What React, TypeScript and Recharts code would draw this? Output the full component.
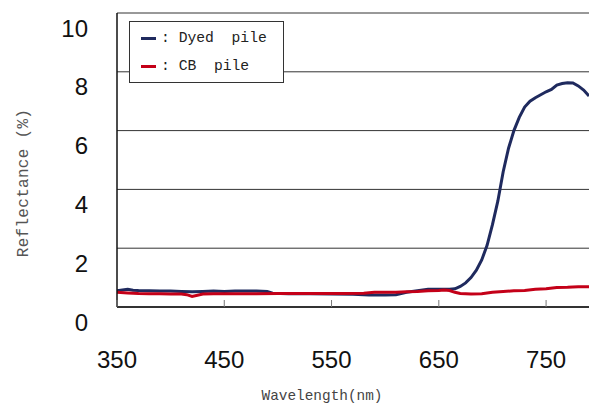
import { LineChart, Line, XAxis, YAxis, CartesianGrid } from 'recharts'

// wavelength (nm) / reflectance (%)
const dyedWavelength = [
  350, 355, 360, 365, 370, 380, 390, 400, 410, 420, 430, 440, 450, 460, 470, 480, 490, 495,
  510, 530, 550, 570, 585, 600, 610, 620, 630, 640, 650, 660, 665, 670, 675, 680, 685, 690,
  695, 700, 705, 710, 715, 720, 725, 730, 735, 740, 745, 750, 755, 760, 765, 770, 775, 780,
  785, 790,
]
const dyedReflectance = [
  0.55, 0.58, 0.6, 0.57, 0.56, 0.55, 0.54, 0.54, 0.53, 0.52, 0.53, 0.54, 0.53, 0.54, 0.54, 0.54,
  0.53, 0.47, 0.45, 0.45, 0.44, 0.43, 0.41, 0.41, 0.42, 0.5, 0.55, 0.6, 0.6, 0.6, 0.62, 0.7,
  0.82, 1.0, 1.25, 1.6, 2.1, 2.8, 3.6, 4.6, 5.4, 6.0, 6.45, 6.8, 7.0, 7.12, 7.22, 7.32, 7.4,
  7.55, 7.6, 7.63, 7.62, 7.52, 7.38, 7.18,
]

const cbWavelength = [
  350, 360, 370, 380, 390, 400, 410, 415, 420, 425, 430, 440, 460, 480, 500, 520, 540, 560,
  580, 590, 610, 620, 630, 640, 650, 655, 660, 665, 670, 680, 690, 700, 710, 720, 730, 740,
  750, 760, 770, 780, 790,
]
const cbReflectance = [
  0.5, 0.48, 0.46, 0.45, 0.45, 0.44, 0.44, 0.42, 0.36, 0.4, 0.44, 0.45, 0.45, 0.45, 0.46, 0.46,
  0.46, 0.46, 0.47, 0.5, 0.5, 0.52, 0.53, 0.55, 0.56, 0.58, 0.56, 0.5, 0.46, 0.44, 0.45, 0.5,
  0.53, 0.55, 0.56, 0.6, 0.62, 0.66, 0.67, 0.69, 0.69,
]

const xTicks = [350, 450, 550, 650, 750]
const yTicks = [0, 2, 4, 6, 8, 10]

const series = [
  { name: 'Dyed  pile', color: '#1f2a5e', wl: dyedWavelength, values: dyedReflectance },
  { name: 'CB  pile', color: '#c40018', wl: cbWavelength, values: cbReflectance },
]

const toPoints = (wl: number[], values: number[]) => wl.map((x, i) => ({ x, v: values[i] }))

const numFont = '"Liberation Sans", Arial, sans-serif'
const monoFont = '"Liberation Mono", "DejaVu Sans Mono", monospace'

interface TickProps {
  x?: number
  y?: number
  payload?: { value: number }
}

const XTick = ({ x = 0, y = 0, payload }: TickProps) => (
  <g>
    <line x1={x} x2={x} y1={y - 7} y2={y} stroke="#777" strokeWidth={1} />
    <text x={x} y={y + 61} textAnchor="middle" fontSize={24} fill="#111" fontFamily={numFont}>
      {payload?.value}
    </text>
  </g>
)

const YTick = ({ x = 0, y = 0, payload }: TickProps) => (
  <text x={x - 29} y={y + 23.5} textAnchor="end" fontSize={24} fill="#111" fontFamily={numFont}>
    {payload?.value}
  </text>
)

export default function App() {
  return (
    <div style={{ position: 'absolute', left: 0, top: 0, width: 589, height: 403, background: '#fff', overflow: 'hidden' }}>
      <LineChart width={589} height={403} margin={{ top: 13, right: 0, bottom: 0, left: 0 }}>
        <CartesianGrid vertical={false} stroke="#333" strokeWidth={1} />
        <XAxis
          dataKey="x"
          type="number"
          domain={[350, 790]}
          ticks={xTicks}
          allowDataOverflow
          height={96}
          axisLine={{ stroke: '#111', strokeWidth: 1.5 }}
          tickLine={false}
          tickSize={0}
          tickMargin={0}
          tick={<XTick />}
          label={{
            content: () => (
              <text x={322} y={400} textAnchor="middle" fontSize={14.4} fill="#444" fontFamily={monoFont}>
                Wavelength(nm)
              </text>
            ),
          }}
        />
        <YAxis
          type="number"
          domain={[0, 10]}
          ticks={yTicks}
          width={117}
          axisLine={{ stroke: '#111', strokeWidth: 1.5 }}
          tickLine={false}
          tickSize={0}
          tickMargin={0}
          tick={<YTick />}
          label={{
            content: () => (
              <text
                transform="translate(28,183) rotate(-90)"
                textAnchor="middle"
                fontSize={16}
                letterSpacing={0.3}
                fill="#555"
                fontFamily={monoFont}
              >
                Reflectance (%)
              </text>
            ),
          }}
        />
        {series.map((s) => (
          <Line
            key={s.name}
            data={toPoints(s.wl, s.values)}
            dataKey="v"
            type="linear"
            stroke={s.color}
            strokeWidth={3}
            dot={false}
            isAnimationActive={false}
          />
        ))}
      </LineChart>
      <div
        style={{
          position: 'absolute',
          left: 129,
          top: 21,
          width: 153,
          height: 60,
          border: '1px solid #333',
          background: '#fff',
          fontFamily: monoFont,
          fontSize: 14.7,
          color: '#222',
          boxSizing: 'content-box',
        }}
      >
        {series.map((s, i) => (
          <div key={s.name} style={{ position: 'absolute', left: 11, top: 7 + i * 28, height: 18, display: 'flex', alignItems: 'center', whiteSpace: 'pre' }}>
            <span style={{ display: 'inline-block', width: 15, height: 3, background: s.color, marginRight: 5 }} />
            <span>{`: ${s.name}`}</span>
          </div>
        ))}
      </div>
    </div>
  )
}
